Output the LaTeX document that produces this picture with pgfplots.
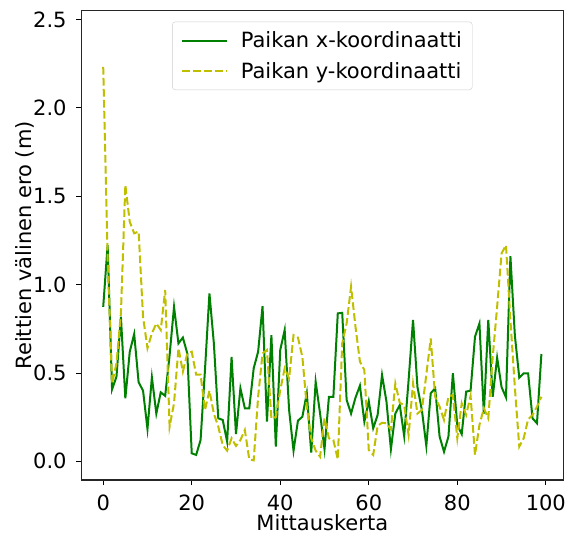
\documentclass[border=0pt]{standalone}
\usepackage{fontspec}
\setmainfont{DejaVu Sans}
\usepackage{pgfplots}
\pgfplotsset{compat=1.18}
\usepackage{pgfplotstable}

\definecolor{mplgreen}{HTML}{008000}
\definecolor{mplyellow}{HTML}{BFBF00}

% distance between routes, per measurement run
\pgfplotstableread{
i  xk     yk
0  0.874  2.232
1  1.223  1.15
2  0.407  0.44
3  0.479  0.554
4  0.818  0.837
5  0.356  1.563
6  0.62   1.355
7  0.72   1.29
8  0.447  1.30
9  0.40   0.818
10 0.183  0.64
11 0.475  0.724
12 0.27   0.78
13 0.39   0.743
14 0.37   0.969
15 0.60   0.196
16 0.874  0.328
17 0.667  0.64
18 0.70   0.507
19 0.61   0.61
20 0.045  0.62
21 0.036  0.49
22 0.12   0.49
23 0.52   0.29
24 0.95   0.40
25 0.667  0.27
26 0.243  0.196
27 0.234  0.092
28 0.111  0.06
29 0.59   0.13
30 0.154  0.087
31 0.413  0.12
32 0.30   0.177
33 0.30   0.011
34 0.526  0.005
35 0.62   0.365
36 0.878  0.61
37 0.224  0.63
38 0.714  0.243
39 0.083  0.25
40 0.63   0.403
41 0.743  0.526
42 0.29   0.469
43 0.06   0.714
44 0.23   0.70
45 0.252  0.59
46 0.385  0.309
47 0.049  0.13
48 0.45   0.06
49 0.27   0.026
50 0.068  0.243
51 0.365  0.13
52 0.365  0.12
53 0.837  0.011
54 0.84   0.667
55 0.347  0.78
56 0.27   0.988
57 0.36   0.761
58 0.428  0.564
59 0.224  0.516
60 0.34   0.064
61 0.187  0.036
62 0.262  0.20
63 0.488  0.218
64 0.337  0.215
65 0.068  0.181
66 0.27   0.44
67 0.318  0.331
68 0.143  0.318
69 0.46   0.149
70 0.80   0.44
71 0.42   0.27
72 0.29   0.29
73 0.087  0.49
74 0.385  0.695
75 0.413  0.365
76 0.14   0.309
77 0.054  0.234
78 0.14   0.365
79 0.498  0.375
80 0.205  0.13
81 0.154  0.328
82 0.394  0.262
83 0.40   0.37
84 0.705  0.036
85 0.78   0.205
86 0.27   0.30
87 0.80   0.243
88 0.365  0.59
89 0.586  0.874
90 0.42   1.176
91 0.362  1.223
92 1.161  0.80
93 0.714  0.42
94 0.473  0.083
95 0.498  0.13
96 0.498  0.237
97 0.243  0.262
98 0.215  0.309
99 0.607  0.365
}\routes

\begin{document}
\begin{tikzpicture}[font=\fontsize{21}{25}\selectfont]
\begin{axis}[
    scale only axis,
    width=482pt, height=469.3pt,
    xmin=-4.95, xmax=103.95,
    ymin=-0.106, ymax=2.55,
    xtick={0,20,...,100},
    ytick={0,0.5,...,2.5},
    /pgf/number format/assume math mode=true,
    yticklabel style={/pgf/number format/.cd, fixed, fixed zerofill, precision=1},
    tick align=outside,
    major tick length=4.9pt,
    tick style={black, line width=0.8pt},
    xtick pos=bottom, ytick pos=left,
    axis line style={black!85, line width=1.1pt},
    ticklabel style={inner sep=0pt},
    xticklabel shift=10pt,
    yticklabel shift=9.6pt,
    xlabel={Mittauskerta},
    ylabel={Reittien välinen ero (m)},
    xlabel style={at={([yshift=-50pt]rel axis cs:0.5,0)}, anchor=base, inner sep=0pt},
    ylabel style={at={([xshift=-50pt]rel axis cs:0,0.5)}, anchor=base, inner sep=0pt},
    legend cell align=left,
    legend image code/.code={\draw[#1] (0pt,0pt) -- (45pt,0pt);},
    legend style={at={([yshift=-11pt]rel axis cs:0.5,1)}, anchor=north,
        draw=black!20, rounded corners=3pt, fill=white,
        inner xsep=8.5pt, inner ysep=8pt, row sep=9pt,
        /tikz/every odd column/.append style={column sep=11pt}},
]
\addplot[mplgreen, line width=2pt] table[x=i, y=xk] {\routes};
\addlegendentry{Paikan x-koordinaatti}
\addplot[mplyellow, line width=2pt, dash pattern=on 7.7pt off 3.3pt] table[x=i, y=yk] {\routes};
\addlegendentry{Paikan y-koordinaatti}
\coordinate (bl) at (rel axis cs:0,0);
\coordinate (tr) at (rel axis cs:1,1);
\end{axis}
\pgfresetboundingbox
\path[use as bounding box] ([shift={(-81.3pt,-55pt)}]bl) rectangle ([shift={(11.7pt,10.7pt)}]tr);
\end{tikzpicture}
\end{document}
